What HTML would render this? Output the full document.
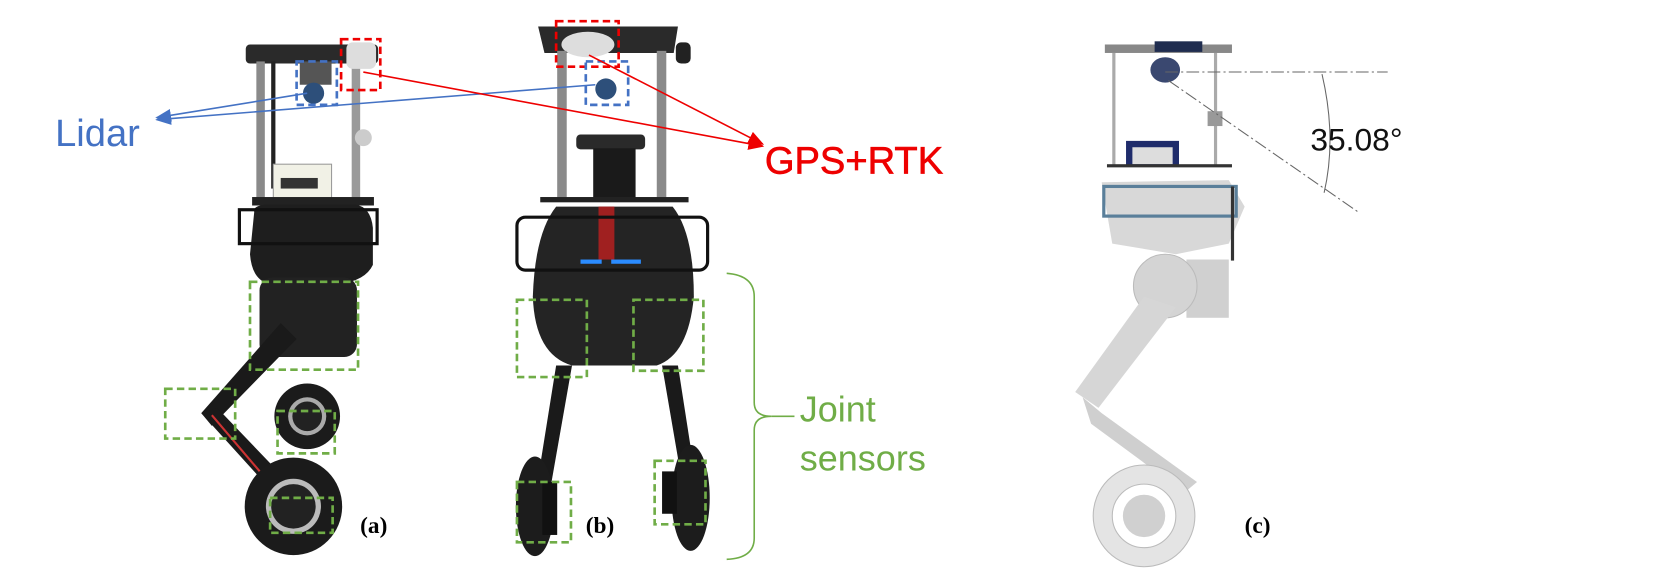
<!DOCTYPE html>
<html><head><meta charset="utf-8"><style>
html,body{margin:0;padding:0;background:#fff;width:1661px;height:583px;overflow:hidden}
svg{display:block}
</style></head><body>
<svg width="1661" height="583" viewBox="0 0 1661 583" xmlns="http://www.w3.org/2000/svg">
<defs>
<marker id="ab" markerWidth="10" markerHeight="8" refX="9" refY="4" orient="auto"><path d="M0,0 L10,4 L0,8 z" fill="#4472c4"/></marker>
<marker id="ar" markerWidth="10" markerHeight="8" refX="9" refY="4" orient="auto"><path d="M0,0 L10,4 L0,8 z" fill="#e00"/></marker>
</defs>
<g transform="scale(1.0593)">
<!-- ROBOT A -->
<g>
<rect x="232" y="42" width="125" height="18" rx="4" fill="#2a2a2a"/>
<rect x="242" y="58" width="8" height="130" fill="#8a8a8a"/>
<rect x="332" y="58" width="8" height="130" fill="#9a9a9a"/>
<rect x="256" y="58" width="4" height="120" fill="#222"/>
<rect x="327" y="40" width="28" height="25" rx="6" fill="#ddd"/>
<rect x="283" y="58" width="30" height="22" fill="#555"/>
<circle cx="296" cy="88" r="10" fill="#2d4f7a"/>
<circle cx="343" cy="130" r="8" fill="#ccc"/>
<rect x="258" y="155" width="55" height="32" fill="#f1f1e6" stroke="#999"/>
<rect x="265" y="168" width="35" height="10" fill="#333"/>
<rect x="238" y="186" width="115" height="8" fill="#222"/>
<path d="M240 200 Q238 195 250 193 L335 193 Q350 195 352 215 L352 250 Q345 265 320 268 L255 268 Q238 265 236 240 Z" fill="#1e1e1e"/>
<rect x="226" y="198" width="130" height="32" fill="none" stroke="#111" stroke-width="3"/>
<rect x="245" y="262" width="92" height="75" rx="12" fill="#222"/>
<path d="M265 305 L190 390 L200 402 L280 320 Z" fill="#1a1a1a"/>
<path d="M190 390 L258 465 L272 455 L205 385 Z" fill="#1a1a1a"/>
<path d="M200 392 L258 460" stroke="#c33" stroke-width="2"/>
<circle cx="290" cy="393" r="31" fill="#1b1b1b"/>
<circle cx="290" cy="393" r="18" fill="#aaa"/><circle cx="290" cy="393" r="14" fill="#222"/>
<circle cx="277" cy="478" r="46" fill="#1b1b1b"/>
<circle cx="277" cy="478" r="26" fill="#bbb"/><circle cx="277" cy="478" r="21" fill="#222"/>
</g>
<!-- ROBOT B -->
<g>
<path d="M508 25 L640 25 L636 50 L514 50 Z" fill="#2a2a2a"/>
<ellipse cx="555" cy="42" rx="25" ry="12" fill="#ddd"/>
<rect x="526" y="48" width="9" height="140" fill="#8a8a8a"/>
<rect x="620" y="48" width="9" height="140" fill="#8a8a8a"/>
<rect x="638" y="40" width="14" height="20" rx="5" fill="#222"/>
<circle cx="572" cy="84" r="10" fill="#2d4f7a"/>
<rect x="544" y="127" width="65" height="14" rx="4" fill="#2a2a2a"/>
<rect x="560" y="140" width="40" height="50" fill="#1a1a1a"/>
<rect x="510" y="186" width="140" height="5" fill="#222"/>
<path d="M525 195 L635 195 Q655 220 655 280 Q650 335 620 345 L540 345 Q505 335 503 280 Q505 220 525 195 Z" fill="#242424"/>
<rect x="565" y="195" width="15" height="50" fill="#a02020"/>
<rect x="488" y="205" width="180" height="50" rx="8" fill="none" stroke="#111" stroke-width="3"/>
<rect x="548" y="245" width="20" height="4" fill="#2b8cff"/><rect x="577" y="245" width="28" height="4" fill="#2b8cff"/>
<path d="M525 345 L505 470 L518 470 L540 345 Z" fill="#1a1a1a"/>
<path d="M625 345 L643 450 L656 448 L640 345 Z" fill="#1a1a1a"/>
<ellipse cx="505" cy="478" rx="18" ry="47" fill="#1c1c1c"/>
<rect x="512" y="455" width="14" height="50" fill="#111"/>
<ellipse cx="652" cy="470" rx="18" ry="50" fill="#1c1c1c"/>
<rect x="625" y="445" width="14" height="40" fill="#111"/>
</g>
<!-- dashed boxes -->
<g fill="none" stroke-width="2.5" stroke-dasharray="7,4">
<rect x="322" y="37" width="37" height="48" stroke="#e00"/>
<rect x="280" y="58" width="38" height="41" stroke="#4472c4"/>
<rect x="525" y="20" width="59" height="43" stroke="#e00"/>
<rect x="553" y="58" width="40" height="41" stroke="#4472c4"/>
<g stroke="#70ad47">
<rect x="236" y="266" width="102" height="83"/>
<rect x="156" y="367" width="66" height="47"/>
<rect x="262" y="388" width="54" height="40"/>
<rect x="255" y="470" width="59" height="33"/>
<rect x="488" y="283" width="66" height="73"/>
<rect x="598" y="283" width="66" height="67"/>
<rect x="488" y="455" width="51" height="57"/>
<rect x="618" y="435" width="48" height="60"/>
</g></g>
<!-- connectors -->
<line x1="290" y1="88" x2="148" y2="111" stroke="#4472c4" stroke-width="1.5" marker-end="url(#ab)"/>
<line x1="562" y1="80" x2="148" y2="113" stroke="#4472c4" stroke-width="1.5" marker-end="url(#ab)"/>
<line x1="343" y1="68" x2="720" y2="138" stroke="#e00" stroke-width="1.5" marker-end="url(#ar)"/>
<line x1="556" y1="52" x2="720" y2="136" stroke="#e00" stroke-width="1.5" marker-end="url(#ar)"/>
<path d="M686 258 Q712 260 712 280 L712 380 Q712 393 728 393 Q712 393 712 406 L712 508 Q712 527 686 528" fill="none" stroke="#70ad47" stroke-width="1.5"/>
<line x1="728" y1="393" x2="750" y2="393" stroke="#70ad47" stroke-width="1.5"/>
<text x="52" y="138" font-family="Liberation Sans, sans-serif" font-size="36" fill="#4472c4">Lidar</text>
<text x="722" y="164" font-family="Liberation Sans, sans-serif" font-size="36" fill="#e00" stroke="#e00" stroke-width="0.6">GPS+RTK</text>
<text x="755" y="398" font-family="Liberation Sans, sans-serif" font-size="34" fill="#70ad47">Joint</text>
<text x="755" y="444" font-family="Liberation Sans, sans-serif" font-size="34" fill="#70ad47">sensors</text>
<text x="340" y="503" font-family="Liberation Serif, serif" font-size="22" font-weight="bold">(a)</text>
<text x="553" y="503" font-family="Liberation Serif, serif" font-size="22" font-weight="bold">(b)</text>
<!-- ROBOT C -->
<g>
<rect x="1043" y="42" width="120" height="8" fill="#888"/>
<rect x="1090" y="39" width="45" height="10" fill="#1f2c4f"/>
<rect x="1050" y="50" width="3" height="106" fill="#aaa"/>
<rect x="1146" y="50" width="3" height="106" fill="#aaa"/>
<ellipse cx="1100" cy="66" rx="14" ry="12" fill="#3a4870"/>
<rect x="1140" y="105" width="14" height="14" fill="#999"/>
<rect x="1063" y="133" width="50" height="24" fill="#1f2c6b"/>
<rect x="1069" y="139" width="38" height="16" fill="#ddd"/>
<rect x="1045" y="155" width="118" height="3" fill="#333"/>
<path d="M1040 172 L1160 170 L1175 195 L1160 230 L1110 240 L1050 230 Z" fill="#d8d8d8"/>
<rect x="1042" y="176" width="125" height="28" fill="none" stroke="#5a7f9a" stroke-width="3"/>
<rect x="1162" y="176" width="3" height="70" fill="#333"/>
<rect x="1120" y="245" width="40" height="55" fill="#d0d0d0"/>
<circle cx="1100" cy="270" r="30" fill="#d4d4d4" stroke="#bbb"/>
<path d="M1080 280 L1015 370 L1037 385 L1110 290 Z" fill="#d6d6d6"/>
<path d="M1022 375 L1040 390 L1130 455 L1118 465 L1030 400 Z" fill="#cfcfcf"/>
<circle cx="1080" cy="487" r="48" fill="#e4e4e4" stroke="#bbb"/>
<circle cx="1080" cy="487" r="30" fill="#fff" stroke="#bbb"/>
<circle cx="1080" cy="487" r="20" fill="#d0d0d0"/>
</g>
<g stroke="#666" stroke-width="1" fill="none" stroke-dasharray="12,3,2,3">
<line x1="1100" y1="68" x2="1310" y2="68"/>
<line x1="1103" y1="76" x2="1282" y2="200"/>
</g>
<path d="M1248 70 Q1262 130 1250 182" fill="none" stroke="#666" stroke-width="1"/>
<text x="1237" y="142" font-family="Liberation Sans, sans-serif" font-size="30" fill="#111">35.08°</text>
<text x="1175" y="503" font-family="Liberation Serif, serif" font-size="22" font-weight="bold">(c)</text>
</g>
</svg>
</body></html>
